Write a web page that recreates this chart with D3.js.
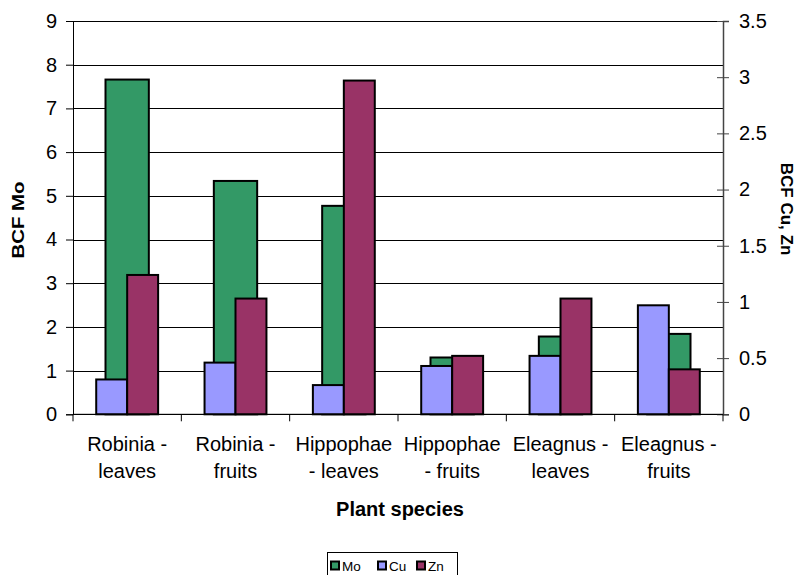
<!DOCTYPE html>
<html><head><meta charset="utf-8">
<script src="https://cdnjs.cloudflare.com/ajax/libs/d3/7.8.5/d3.min.js"></script>
<style>body{margin:0;background:#fff}svg{display:block}text{font-family:"Liberation Sans",Arial,sans-serif;fill:#000}</style>
</head><body><svg id="c" width="796" height="575"></svg>
<script>
const categories = [["Robinia -","leaves"],["Robinia -","fruits"],["Hippophae","- leaves"],["Hippophae","- fruits"],["Eleagnus -","leaves"],["Eleagnus -","fruits"]];
const moValues = [7.66, 5.34, 4.77, 1.30, 1.78, 1.84];
const cuValues = [0.31, 0.46, 0.26, 0.43, 0.52, 0.97];
const znValues = [1.24, 1.03, 2.97, 0.52, 1.03, 0.40];
const leftTicks = [0,1,2,3,4,5,6,7,8,9];
const rightTicks = [0,0.5,1,1.5,2,2.5,3,3.5];
const seriesNames = ["Mo","Cu","Zn"];
const colors = {Mo:"#339966", Cu:"#9999FF", Zn:"#993366"};

const svg = d3.select("#c");
const L=73, R=723, T=21, B=414.3;
const idx = d3.range(categories.length);
const x = d3.scaleBand().domain(idx).range([L,R]).paddingInner(0).paddingOuter(0);
const yL = d3.scaleLinear().domain([0,9]).range([B,T]);
const yR = d3.scaleLinear().domain([0,3.5]).range([B,T]);
const bw = x.bandwidth();

// gridlines
svg.append("g").selectAll("line").data(leftTicks).join("line")
  .attr("x1",L).attr("x2",R).attr("y1",d=>Math.round(yL(d))+0.5).attr("y2",d=>Math.round(yL(d))+0.5)
  .attr("stroke","#000").attr("stroke-width",1);

// Mo bars (primary)
const moW = bw/2.5;
svg.append("g").selectAll("rect").data(moValues).join("rect")
  .attr("x",(d,i)=>x(i)+bw/2-moW/2).attr("width",moW)
  .attr("y",d=>yL(d)).attr("height",d=>B-yL(d))
  .attr("fill",colors.Mo).attr("stroke","#000").attr("stroke-width",2);

// Cu, Zn bars (secondary)
const sub = d3.scaleBand().domain(["Cu","Zn"]).range([0,bw]).paddingOuter(0.75).paddingInner(0);
[["Cu",cuValues],["Zn",znValues]].forEach(([k,vals])=>{
  svg.append("g").selectAll("rect").data(vals).join("rect")
    .attr("x",(d,i)=>x(i)+sub(k)).attr("width",sub.bandwidth())
    .attr("y",d=>yR(d)).attr("height",d=>B-yR(d))
    .attr("fill",colors[k]).attr("stroke","#000").attr("stroke-width",2);
});

// left axis
const gl = svg.append("g").attr("transform",`translate(${L},0)`)
  .call(d3.axisLeft(yL).tickValues(leftTicks).tickSize(7).tickPadding(9).tickFormat(d3.format("d")));
gl.selectAll("text").attr("font-size",20).style("font-family","Liberation Sans, Arial");
gl.select(".domain").attr("stroke","#000");
// right axis
const gr = svg.append("g").attr("transform",`translate(${R},0)`)
  .call(d3.axisRight(yR).tickValues(rightTicks).tickSize(6).tickPadding(10).tickFormat(d=>String(d)));
gr.selectAll(".tick line").attr("x1",-6).attr("stroke","#444");
gr.selectAll("text").attr("font-size",20).style("font-family","Liberation Sans, Arial");
gr.select(".domain").attr("stroke","#444").attr("stroke-width",1.5);
// bottom axis ticks
const gb = svg.append("g").attr("transform",`translate(0,${B})`);
gb.append("line").attr("x1",L).attr("x2",R).attr("stroke","#000");
gb.selectAll("line.t").data(d3.range(categories.length+1)).join("line").attr("class","t")
  .attr("x1",i=>i<categories.length?x(i):R).attr("x2",i=>i<categories.length?x(i):R)
  .attr("y1",0).attr("y2",7).attr("stroke","#000");
// category labels
const cl = svg.append("g").selectAll("text").data(categories).join("text")
  .attr("text-anchor","middle").attr("font-size",20)
  .attr("transform",(d,i)=>`translate(${x(i)+bw/2},0)`);
cl.append("tspan").attr("x",0).attr("y",451).text(d=>d[0]);
cl.append("tspan").attr("x",0).attr("y",478).text(d=>d[1]);

// titles
svg.append("text").attr("x",400).attr("y",516).attr("text-anchor","middle")
  .attr("font-size",20).attr("font-weight","bold").text("Plant species");
svg.append("text").attr("transform","translate(24,220) rotate(-90)").attr("text-anchor","middle")
  .attr("font-size",17).attr("font-weight","bold")
  .attr("textLength",77).attr("lengthAdjust","spacingAndGlyphs").text("BCF Mo");
svg.append("text").attr("transform","translate(781,209) rotate(90)").attr("text-anchor","middle")
  .attr("font-size",17).attr("font-weight","bold").text("BCF Cu, Zn");

// legend
const lg = svg.append("g");
lg.append("rect").attr("x",327.5).attr("y",552.5).attr("width",130).attr("height",30)
  .attr("fill","#fff").attr("stroke","#000");
const lx = [331, 378, 417];
seriesNames.forEach((n,i)=>{
  lg.append("rect").attr("x",lx[i]).attr("y",561.5).attr("width",8).attr("height",8)
    .attr("fill",colors[n]).attr("stroke","#000").attr("stroke-width",2);
  lg.append("text").attr("x",lx[i]+11).attr("y",570.5).attr("font-size",13.5).text(n);
});
</script></body></html>
